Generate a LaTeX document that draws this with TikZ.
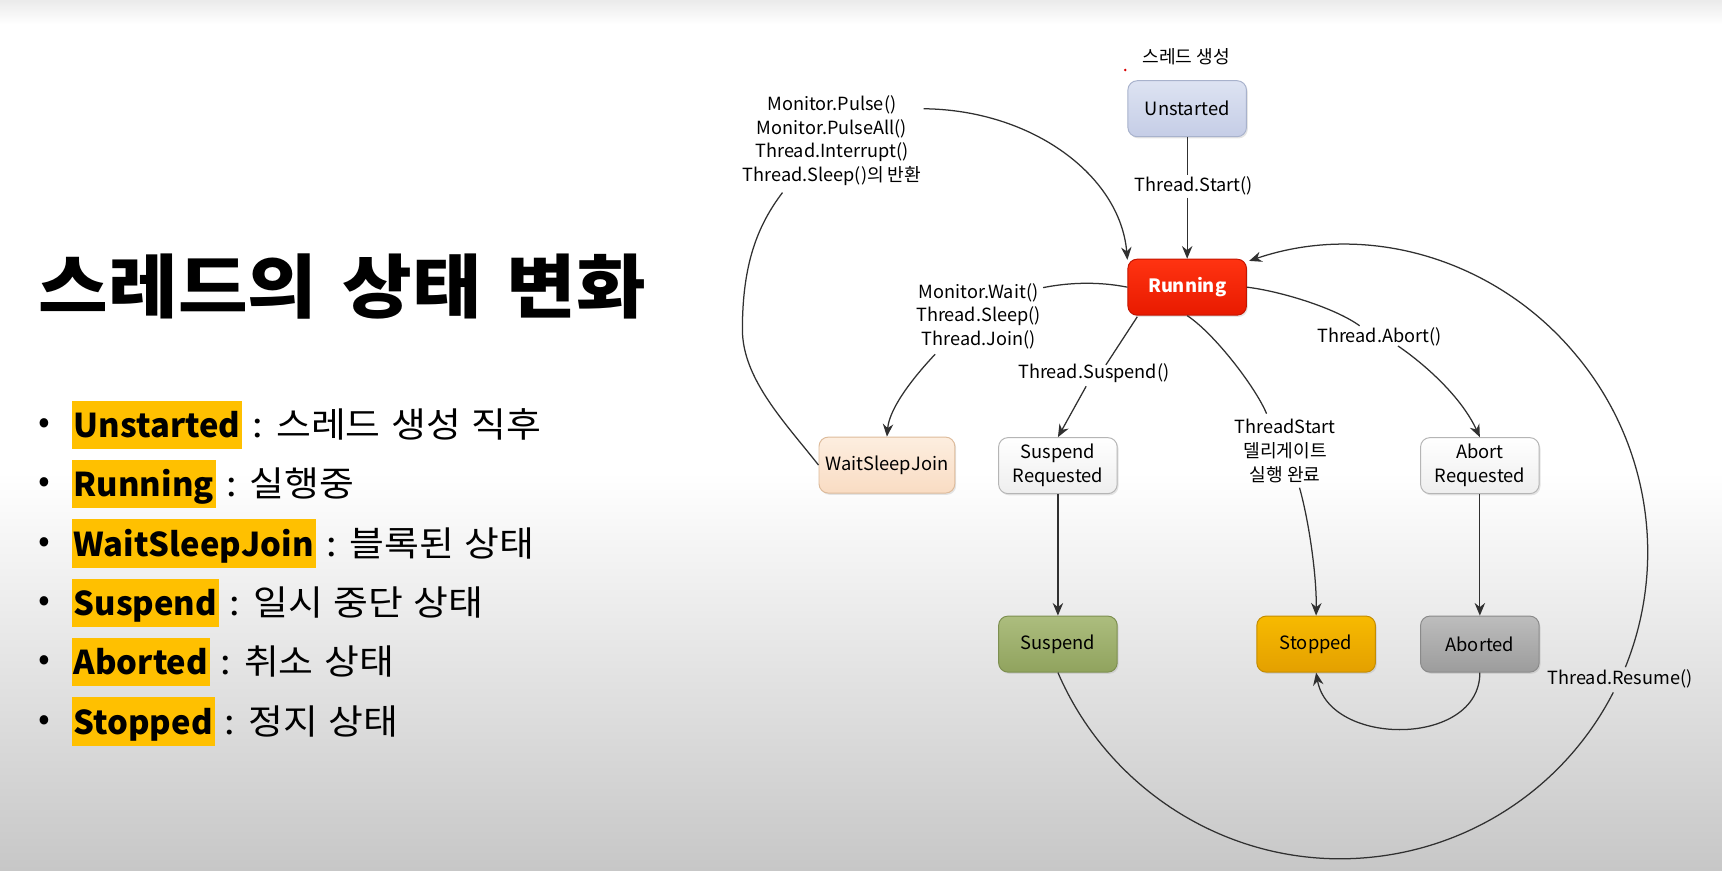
\documentclass[tikz,border=0pt]{standalone}
\usepackage{fontspec}
\setmainfont{Noto Sans CJK KR}
\newfontfamily\widefont[FakeStretch=1.09]{Noto Sans CJK KR}
\usetikzlibrary{arrows.meta, positioning, calc, shadows}

\definecolor{hlgold}{HTML}{FFC000}
\definecolor{linegray}{HTML}{303030}
\definecolor{unstTop}{HTML}{DDE3F2}
\definecolor{unstBot}{HTML}{C5CDE6}
\definecolor{unstLine}{HTML}{A8B2CC}
\definecolor{runTop}{HTML}{FF3311}
\definecolor{runBot}{HTML}{E81A00}
\definecolor{runLine}{HTML}{C41400}
\definecolor{wsjTop}{HTML}{FDEEDF}
\definecolor{wsjBot}{HTML}{F9DCC3}
\definecolor{wsjLine}{HTML}{DDBB9B}
\definecolor{reqBot}{HTML}{EEEEEE}
\definecolor{reqLine}{HTML}{B5B5B5}
\definecolor{suspTop}{HTML}{ACBD7E}
\definecolor{suspBot}{HTML}{90A35E}
\definecolor{suspLine}{HTML}{7D8F50}
\definecolor{stopTop}{HTML}{F7BA00}
\definecolor{stopBot}{HTML}{E4A000}
\definecolor{stopLine}{HTML}{C48C00}
\definecolor{abrtTop}{HTML}{BDBDBD}
\definecolor{abrtBot}{HTML}{9C9C9C}
\definecolor{abrtLine}{HTML}{8A8A8A}

\tikzset{
    state/.style={draw, rectangle, rounded corners=0.17cm, minimum width=2.16cm, minimum height=1.02cm, align=center, font=\fontsize{9.5}{12.3}\selectfont, line width=0.5pt, drop shadow={opacity=0.2, shadow xshift=0.7pt, shadow yshift=-0.9pt}},
    trans/.style={align=center, inner sep=1pt, font=\fontsize{9.4}{12.3}\selectfont},
    conn/.style={draw=linegray, line width=0.65pt},
    arrow/.style={-{Stealth[length=2.3mm, width=1.9mm]}},
    hilite/.style={fill=hlgold, inner xsep=1pt, inner ysep=0pt, text height=19pt, text depth=6pt, font=\fontsize{17}{22}\selectfont\bfseries},
    desc/.style={inner sep=0pt, font={\widefont\fontsize{18}{22}\selectfont\spaceskip=0.3em}},
    bul/.style={inner sep=0pt, font=\fontsize{18}{22}\selectfont}
}

\begin{document}
\begin{tikzpicture}[x=0.02cm, y=-0.02cm]
% background
\fill[white] (0,0) rectangle (1568,793);
\shade[top color=white, bottom color=black!22] (0,430) rectangle (1568,793);
\shade[top color=black!8, bottom color=white] (0,0) rectangle (1568,22);
\useasboundingbox (0,0) rectangle (1568,793);

% title and list
\node[anchor=west, inner sep=0pt, font={\widefont\fontsize{36}{40}\selectfont\bfseries\spaceskip=0.36em}] (title) at (35,261) {스레드의 상태 변화};

\node[bul] (b1) at (40,388) {•};
\node[hilite, anchor=west] (k1) at (65,387) {Unstarted};
\node[desc, base right=5pt of k1] (d1) {: 스레드 생성 직후};
\node[bul] (b2) at (40,442) {•};
\node[hilite, anchor=west] (k2) at (65,441) {Running};
\node[desc, base right=5pt of k2] (d2) {: 실행중};
\node[bul] (b3) at (40,496) {•};
\node[hilite, anchor=west] (k3) at (65,495) {WaitSleepJoin};
\node[desc, base right=5pt of k3] (d3) {: 블록된 상태};
\node[bul] (b4) at (40,550) {•};
\node[hilite, anchor=west] (k4) at (65,549) {Suspend};
\node[desc, base right=5pt of k4] (d4) {: 일시 중단 상태};
\node[bul] (b5) at (40,604) {•};
\node[hilite, anchor=west] (k5) at (65,603) {Aborted};
\node[desc, base right=5pt of k5] (d5) {: 취소 상태};
\node[bul] (b6) at (40,658) {•};
\node[hilite, anchor=west] (k6) at (65,657) {Stopped};
\node[desc, base right=5pt of k6] (d6) {: 정지 상태};

% states
\node[state, top color=unstTop, bottom color=unstBot, draw=unstLine] (unst) at (1081,99) {Unstarted};
\node[state, top color=runTop, bottom color=runBot, draw=runLine, text=white, font=\fontsize{9.5}{12.3}\selectfont\bfseries] (run) at (1081,261.5) {Running};
\node[state, top color=wsjTop, bottom color=wsjBot, draw=wsjLine, minimum width=2.36cm] (wsj) at (807.6,423.5) {WaitSleepJoin};
\node[state, top color=white, bottom color=reqBot, draw=reqLine] (sreq) at (963.3,424) {Suspend\\Requested};
\node[state, top color=white, bottom color=reqBot, draw=reqLine] (areq) at (1347.5,424) {Abort\\Requested};
\node[state, top color=suspTop, bottom color=suspBot, draw=suspLine] (susp) at (963.3,586.5) {Suspend};
\node[state, top color=stopTop, bottom color=stopBot, draw=stopLine] (stop) at (1198.4,586.5) {Stopped};
\node[state, top color=abrtTop, bottom color=abrtBot, draw=abrtLine] (abrt) at (1347.5,586.5) {Aborted};

% transition labels
\node[trans] (lcreate) at (1080,52) {스레드 생성};
\fill[red!85!black] (1024.6,63.8) circle (1.3);
\node[trans] (lpulse) at (757.5,128.2) {Monitor.Pulse()\\Monitor.PulseAll()\\Thread.Interrupt()\\Thread.Sleep()의 반환};
\node[trans] (lstart) at (1087,169.4) {Thread.Start()};
\node[trans] (lwait) at (891,288) {Monitor.Wait()\\Thread.Sleep()\\Thread.Join()};
\node[trans] (lsusp) at (996,340) {Thread.Suspend()};
\node[trans] (lthr) at (1170.3,410.6) {ThreadStart\\델리게이트\\실행 완료};
\node[trans] (labort) at (1256,306.6) {Thread.Abort()};
\node[trans] (lresume) at (1475,618) {Thread.Resume()};

% connectors
\draw[conn] (unst.south) -- (unst.south |- lstart.north);
\draw[conn, arrow] (unst.south |- lstart.south) -- (run.north);

\draw[conn, arrow] ($(lpulse.north east)+(0,14)$) .. controls (940,100) and (1020,160) .. ($(run.north west)+(0,1)$);
\draw[conn] (wsj.west) .. controls (715,385) and (676,345) .. (676,300) .. controls (676,240) and (690,205) .. ($(lpulse.south)+(-45,4)$);

\draw[conn] (run.west) .. controls +(-25,-5) and +(25,-5) .. ($(lwait.north east)+(0,6)$);
\draw[conn, arrow] ($(lwait.south)+(-39.5,2.5)$) .. controls (835,340) and (810,370) .. (wsj.north);

\draw[conn] ($(run.south west)+(9,1)$) -- ($(lsusp.north)+(11,3)$);
\draw[conn, arrow] ($(lsusp.south)+(-7,1)$) -- (sreq.north);

\draw[conn] (run.south) .. controls (1105,303) and (1143,352) .. ($(lthr.north)+(-17,-3)$);
\draw[conn, arrow] ($(lthr.south)+(13,2.6)$) .. controls (1192,475) and (1199,525) .. (stop.north);

\draw[conn] (run.east) .. controls (1165,265) and (1215,280) .. ($(labort.north)+(-18,0.5)$);
\draw[conn, arrow] ($(labort.south)+(17,-2)$) .. controls (1295,330) and (1330,360) .. (areq.north);

\draw[conn, arrow] (sreq) -- (susp);
\draw[conn, arrow] (areq) -- (abrt);
\draw[conn, arrow] (abrt.south) .. controls +(0,68) and +(12,68) .. (stop.south);

\draw[conn] (susp.south) .. controls (1007,714) and (1108,782) .. (1220,782) .. controls (1325,782) and (1421,724) .. ($(lresume.south)+(-6,2)$);
\draw[conn, arrow] ($(lresume.north)+(5,0)$) .. controls (1519,511) and (1501,401) .. (1434,322) .. controls (1362,236) and (1245,201) .. ($(run.north east)+(2,2)$);
\end{tikzpicture}
\end{document}
